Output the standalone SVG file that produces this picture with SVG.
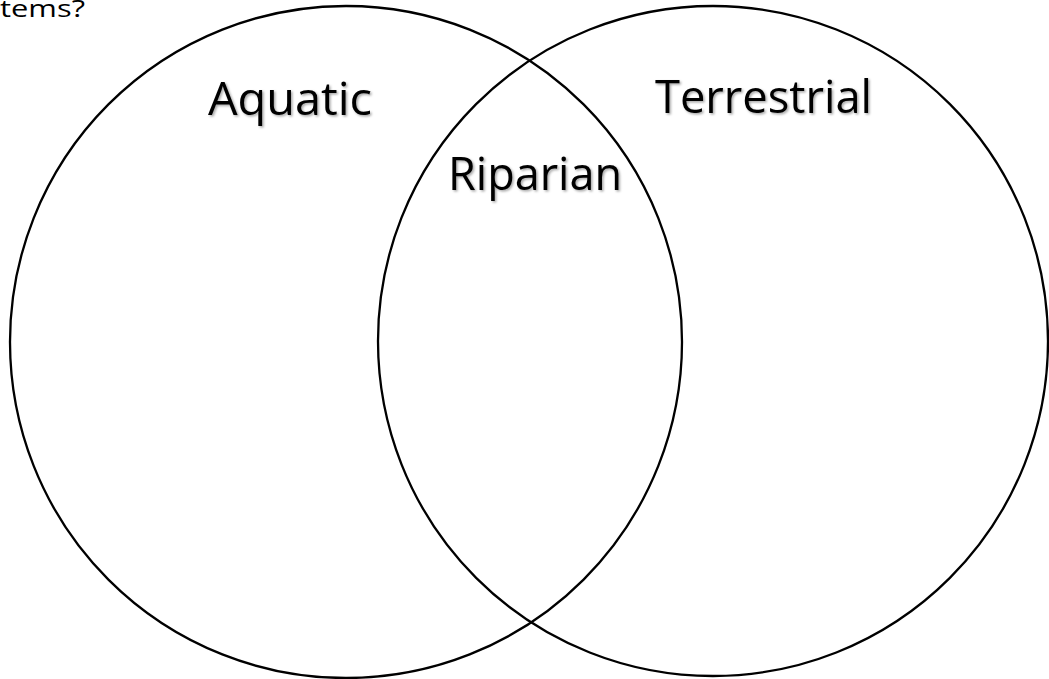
<svg xmlns="http://www.w3.org/2000/svg" width="1049" height="679" viewBox="0 0 1049 679">
<defs>
<style>
.c{fill:none;stroke:#000;stroke-width:2.3}
.t{font-family:"Open Sans","Liberation Sans",sans-serif;fill:#000}
.lbl{font-size:46px;filter:url(#sh)}
</style>
<filter id="sh" x="-10%" y="-20%" width="130%" height="150%">
<feDropShadow dx="1.5" dy="1.5" stdDeviation="1" flood-color="#000" flood-opacity="0.35"/>
</filter>
</defs>
<rect width="1049" height="679" fill="#fff"/>
<text class="t" x="0" y="17" font-size="23" textLength="85" lengthAdjust="spacingAndGlyphs">tems?</text>
<g id="aquatic">
<circle class="c" cx="346" cy="342" r="336"/>
<text class="t lbl" x="208" y="115" textLength="164" lengthAdjust="spacingAndGlyphs">Aquatic</text>
</g>
<g id="terrestrial">
<circle class="c" cx="713" cy="341" r="335"/>
<text class="t lbl" x="655" y="113" textLength="217" lengthAdjust="spacingAndGlyphs">Terrestrial</text>
</g>
<g id="riparian">
<text class="t lbl" x="448" y="190" textLength="174" lengthAdjust="spacingAndGlyphs">Riparian</text>
</g>
<g id="connectors"></g>
</svg>
